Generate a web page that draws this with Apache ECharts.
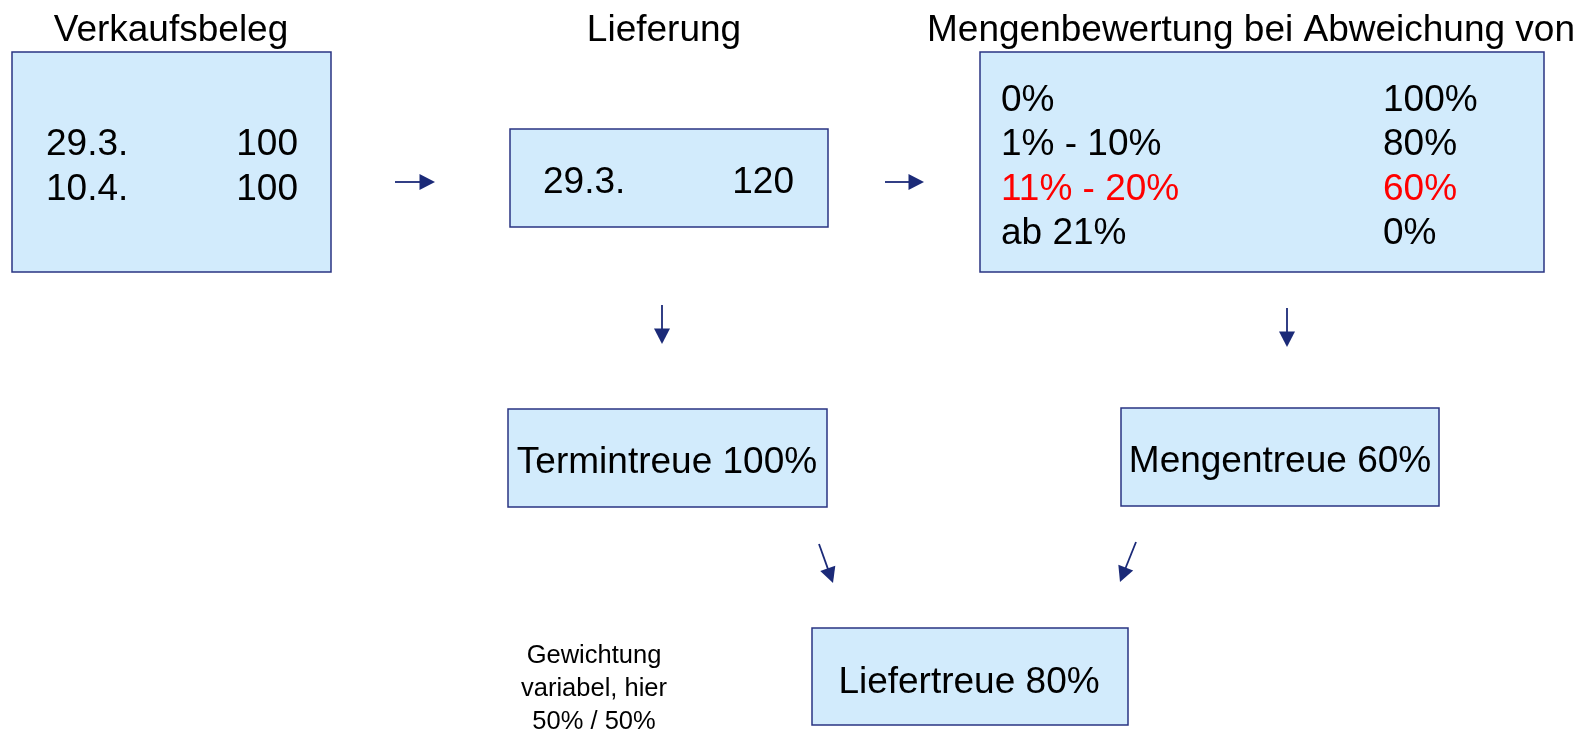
<!DOCTYPE html>
<html>
<head>
<meta charset="utf-8">
<script src="https://cdn.jsdelivr.net/npm/echarts@6/dist/echarts.min.js"></script>
<style>
  html, body { margin: 0; padding: 0; background: #ffffff; }
  #chart { width: 1587px; height: 731px; }
</style>
</head>
<body>
<div id="chart"></div>
<script>
// ---------- content ----------
const titles = ['Verkaufsbeleg', 'Lieferung', 'Mengenbewertung bei Abweichung von'];
const orderDates = ['29.3.', '10.4.'];
const orderQuantities = ['100', '100'];
const deliveryDates = ['29.3.'];
const deliveryQuantities = ['120'];
const deviationRanges = ['0%', '1% - 10%', '11% - 20%', 'ab 21%'];
const quantityScores = ['100%', '80%', '60%', '0%'];
const appliedDeviationIndex = 2;
const resultLabels = ['Termintreue', 'Mengentreue', 'Liefertreue'];
const resultValues = ['100%', '60%', '80%'];
const weightingNote = ['Gewichtung', 'variabel, hier', '50% / 50%'];

// ---------- layout (diagram units = pixels of the 1587x731 canvas) ----------
const layout = {
  titleY: 31,
  titleX: [171, 664, 1251],
  boxes: {
    order: [12, 52, 331, 272],
    delivery: [510, 129, 828, 227],
    deviation: [980, 52, 1544, 272],
    result0: [508, 409, 827, 507],
    result1: [1121, 408, 1439, 506],
    result2: [812, 628, 1128, 725]
  },
  orderRowsY: [144.5, 189.5],
  orderLeftX: 46, orderRightX: 298,
  deliveryRowsY: [182.5],
  deliveryLeftX: 543, deliveryRightX: 794,
  deviationRowsY: [100.5, 145, 190, 233.5],
  deviationLeftX: 1001, deviationRightX: 1383,
  resultCenters: [[667, 463], [1280, 462], [969, 682.5]],
  noteX: 594, noteY: [656, 689, 721.5],
  arrows: [
    [395, 182, 435, 182],
    [885, 182, 924, 182],
    [662, 305, 662, 344],
    [1287, 308, 1287, 347],
    [819, 544, 833, 583],
    [1136, 542, 1120, 582]
  ]
};

const FONT = '"Liberation Sans", Arial, "DejaVu Sans", sans-serif';
const BOX_FILL = '#D2EBFC';
const BOX_STROKE = '#2A3482';
const ARROW = '#1B2A78';
const RED = '#FF0000';

// ---------- build element list ----------
const elements = [];
Object.keys(layout.boxes).forEach(k => elements.push({ kind: 'box', r: layout.boxes[k] }));
titles.forEach((t, i) => elements.push({ kind: 'text', x: layout.titleX[i], y: layout.titleY, text: t, size: 37, align: 'center', color: '#000' }));
orderDates.forEach((d, i) => {
  elements.push({ kind: 'text', x: layout.orderLeftX, y: layout.orderRowsY[i], text: d, size: 37, align: 'left', color: '#000' });
  elements.push({ kind: 'text', x: layout.orderRightX, y: layout.orderRowsY[i], text: orderQuantities[i], size: 37, align: 'right', color: '#000' });
});
deliveryDates.forEach((d, i) => {
  elements.push({ kind: 'text', x: layout.deliveryLeftX, y: layout.deliveryRowsY[i], text: d, size: 37, align: 'left', color: '#000' });
  elements.push({ kind: 'text', x: layout.deliveryRightX, y: layout.deliveryRowsY[i], text: deliveryQuantities[i], size: 37, align: 'right', color: '#000' });
});
deviationRanges.forEach((r, i) => {
  const c = i === appliedDeviationIndex ? RED : '#000';
  elements.push({ kind: 'text', x: layout.deviationLeftX, y: layout.deviationRowsY[i], text: r, size: 37, align: 'left', color: c });
  elements.push({ kind: 'text', x: layout.deviationRightX, y: layout.deviationRowsY[i], text: quantityScores[i], size: 37, align: 'left', color: c });
});
resultLabels.forEach((l, i) => elements.push({ kind: 'text', x: layout.resultCenters[i][0], y: layout.resultCenters[i][1], text: l + ' ' + resultValues[i], size: 37, align: 'center', color: '#000' }));
weightingNote.forEach((l, i) => elements.push({ kind: 'text', x: layout.noteX, y: layout.noteY[i], text: l, size: 25.5, align: 'center', color: '#000' }));
layout.arrows.forEach(a => elements.push({ kind: 'arrow', a: a }));

function renderItem(params, api) {
  const el = elements[params.dataIndex];
  if (el.kind === 'box') {
    const p0 = api.coord([el.r[0], el.r[1]]);
    const p1 = api.coord([el.r[2], el.r[3]]);
    return {
      type: 'rect',
      shape: { x: p0[0], y: p0[1], width: p1[0] - p0[0], height: p1[1] - p0[1] },
      style: { fill: BOX_FILL, stroke: BOX_STROKE, lineWidth: 1.5 }
    };
  }
  if (el.kind === 'text') {
    const p = api.coord([el.x, el.y]);
    return {
      type: 'text',
      x: p[0], y: p[1],
      z2: 10,
      style: {
        text: el.text,
        fill: el.color,
        font: el.size + 'px ' + FONT,
        textAlign: el.align,
        textVerticalAlign: 'middle'
      }
    };
  }
  // arrow
  const s = api.coord([el.a[0], el.a[1]]);
  const e = api.coord([el.a[2], el.a[3]]);
  const dx = e[0] - s[0], dy = e[1] - s[1];
  const len = Math.sqrt(dx * dx + dy * dy);
  const ux = dx / len, uy = dy / len;
  const headLen = 15.5, halfW = 8;
  const bx = e[0] - ux * headLen, by = e[1] - uy * headLen;
  return {
    type: 'group',
    children: [
      { type: 'line', shape: { x1: s[0], y1: s[1], x2: bx + ux * 1, y2: by + uy * 1 }, style: { stroke: ARROW, lineWidth: 1.8 } },
      { type: 'polygon', shape: { points: [[e[0], e[1]], [bx - uy * halfW, by + ux * halfW], [bx + uy * halfW, by - ux * halfW]] }, style: { fill: ARROW } }
    ]
  };
}

const chart = echarts.init(document.getElementById('chart'), null, { renderer: 'canvas' });
chart.setOption({
  animation: false,
  backgroundColor: '#ffffff',
  grid: { left: 0, right: 0, top: 0, bottom: 0 },
  xAxis: { type: 'value', min: 0, max: 1587, show: false },
  yAxis: { type: 'value', min: 0, max: 731, inverse: true, show: false },
  series: [{
    type: 'custom',
    coordinateSystem: 'cartesian2d',
    renderItem: renderItem,
    clip: false,
    silent: true,
    data: elements.map((_, i) => [i, 0])
  }]
});
</script>
</body>
</html>
